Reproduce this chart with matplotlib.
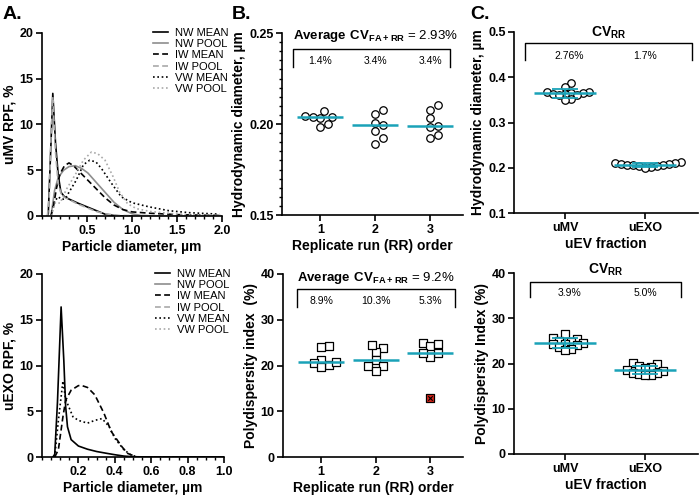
import numpy as np
import matplotlib; matplotlib.use("Agg")
import matplotlib.pyplot as plt
from matplotlib.lines import Line2D
from matplotlib.ticker import MultipleLocator, FormatStrFormatter

# ── Data ──────────────────────────────────────────────────────────────────────
SERIES = ["NW MEAN", "NW POOL", "IW MEAN", "IW POOL", "VW MEAN", "VW POOL"]

# A, top: uMV relative particle frequency (%) vs diameter (µm)
umv_nw_mean_d = [0.06, 0.07, 0.10, 0.12, 0.15, 0.18, 0.21, 0.25, 0.30, 0.40, 0.50, 0.60, 0.70, 0.80, 0.90, 1.0, 2.0]
umv_nw_mean_v = [0, 0.3, 8.0, 13.4, 8.0, 4.5, 2.6, 2.1, 1.85, 1.4, 1.0, 0.6, 0.2, 0.05, 0, 0, 0]
umv_nw_pool_d = [0.10, 0.14, 0.18, 0.24, 0.30, 0.37, 0.44, 0.51, 0.60, 0.70, 0.80, 0.90, 1.0, 1.1, 1.3, 2.0]
umv_nw_pool_v = [0, 2.8, 4.2, 5.0, 5.4, 5.5, 5.2, 4.7, 3.7, 2.6, 1.5, 0.7, 0.25, 0.05, 0, 0]
umv_iw_mean_d = [0.10, 0.13, 0.16, 0.20, 0.25, 0.30, 0.35, 0.40, 0.50, 0.60, 0.70, 0.80, 0.90, 1.0, 1.2, 1.5, 1.8, 2.0]
umv_iw_mean_v = [0, 1.2, 3.0, 4.6, 5.5, 5.8, 5.5, 5.0, 4.0, 3.0, 2.0, 1.2, 0.7, 0.45, 0.3, 0.15, 0.08, 0.05]
umv_iw_pool_d = [0.06, 0.08, 0.10, 0.12, 0.15, 0.18, 0.22, 0.30, 0.40, 0.50, 0.60, 0.70, 0.85, 2.0]
umv_iw_pool_v = [0, 2.0, 8.5, 13.0, 7.0, 3.5, 2.2, 1.8, 1.3, 0.9, 0.5, 0.25, 0.05, 0]
umv_vw_mean_d = [0.10, 0.14, 0.18, 0.22, 0.26, 0.30, 0.38, 0.46, 0.53, 0.60, 0.66, 0.77, 0.88, 1.0, 1.19, 1.41, 1.64, 1.97]
umv_vw_mean_v = [0, 1.6, 2.1, 1.8, 1.9, 2.6, 3.9, 5.6, 6.1, 5.9, 5.2, 3.6, 2.1, 1.45, 1.0, 0.58, 0.36, 0.2]
umv_vw_pool_d = [0.10, 0.15, 0.20, 0.27, 0.38, 0.46, 0.55, 0.62, 0.70, 0.79, 0.86, 0.95, 1.05, 1.2, 1.5, 2.0]
umv_vw_pool_v = [0, 1.5, 1.4, 2.9, 4.7, 6.1, 7.0, 6.8, 6.1, 4.3, 2.65, 1.35, 0.8, 0.5, 0.2, 0.05]

# A, bottom: uEXO (pool curves hidden under the means)
uexo_nw_mean_d = [0.06, 0.07, 0.085, 0.105, 0.12, 0.13, 0.14, 0.16, 0.20, 0.25, 0.30, 0.35, 0.40, 0.45, 0.50, 0.60, 1.0]
uexo_nw_mean_v = [0, 0.3, 6.0, 16.4, 10.5, 5.5, 3.3, 1.9, 1.2, 0.85, 0.6, 0.42, 0.25, 0.1, 0.03, 0, 0]
uexo_iw_mean_d = [0.07, 0.09, 0.115, 0.13, 0.16, 0.20, 0.22, 0.25, 0.29, 0.34, 0.38, 0.44, 0.47, 0.52, 1.0]
uexo_iw_mean_v = [0, 0.8, 4.4, 6.2, 7.3, 7.8, 7.8, 7.6, 6.8, 4.8, 2.8, 1.1, 0.4, 0, 0]
uexo_vw_mean_d = [0.07, 0.09, 0.115, 0.13, 0.17, 0.20, 0.25, 0.29, 0.33, 0.37, 0.40, 0.45, 0.49, 0.53, 1.0]
uexo_vw_mean_v = [0, 4.0, 8.3, 6.3, 4.4, 4.0, 3.7, 4.0, 4.2, 3.3, 2.05, 0.8, 0.2, 0, 0]

# B, top: hydrodynamic diameter (µm) per replicate run
rr_order = [1, 2, 3]
hd_run1 = [0.2071, 0.2035, 0.2037, 0.2045, 0.2037, 0.1982, 0.2000]
hd_run2 = [0.2053, 0.2077, 0.2007, 0.1995, 0.1963, 0.1921, 0.1888]
hd_run3 = [0.2104, 0.2077, 0.2031, 0.1985, 0.1988, 0.1921, 0.1940]
hd_cv = ["1.4%", "3.4%", "3.4%"]
hd_cv_avg = "2.93%"

# B, bottom: polydispersity index (%) per replicate run
pdi_run1 = [24.3, 24.0, 20.1, 21.3, 20.5, 20.8, 19.6]
pdi_run2 = [23.9, 22.9, 24.5, 21.1, 19.9, 19.9, 18.9]
pdi_run3 = [25.0, 24.3, 24.8, 22.7, 21.9, 22.7]
pdi_run3_outlier = [13.0]
pdi_cv = ["8.9%", "10.3%", "5.3%"]
pdi_cv_avg = "9.2%"

# C: uEV fractions
fractions = ["uMV", "uEXO"]
hd_umv = [0.387, 0.378, 0.368, 0.367, 0.366, 0.365, 0.364, 0.362, 0.361, 0.360, 0.352, 0.350]
hd_uexo = [0.212, 0.211, 0.210, 0.209, 0.208, 0.207, 0.206, 0.205, 0.204, 0.203, 0.202, 0.200]
hd_frac_cv = ["2.76%", "1.7%"]
pdi_umv = [26.6, 25.7, 25.5, 25.0, 24.7, 24.6, 24.4, 24.3, 24.1, 23.6, 23.3, 23.0]
pdi_uexo = [20.1, 19.9, 19.5, 19.2, 18.9, 18.6, 18.3, 18.0, 17.8, 17.6, 17.5, 17.4]
pdi_frac_cv = ["3.9%", "5.0%"]

# ── Style ─────────────────────────────────────────────────────────────────────
CYAN = "#1aa2b8"
plt.rcParams.update({
    "font.family": "Liberation Sans",
    "font.weight": "bold",
    "axes.labelweight": "bold",
    "axes.labelsize": 10,
    "axes.labelpad": 2,
    "mathtext.fontset": "custom",
    "mathtext.rm": "Liberation Sans",
    "mathtext.bf": "Liberation Sans:bold",
    "axes.linewidth": 1.2,
    "xtick.major.width": 1.2, "ytick.major.width": 1.2,
    "xtick.minor.width": 1.0, "ytick.minor.width": 1.0,
    "xtick.major.size": 4, "ytick.major.size": 4,
    "xtick.minor.size": 2.5, "ytick.minor.size": 2.5,
    "xtick.major.pad": 2.5, "ytick.major.pad": 2,
    "xtick.labelsize": 9, "ytick.labelsize": 9,
    "axes.spines.top": False, "axes.spines.right": False,
})

LINE_STYLE = {
    "NW MEAN": dict(color="black", ls="-"),
    "NW POOL": dict(color="#8e8e8e", ls="-"),
    "IW MEAN": dict(color="black", ls=(0, (3.5, 2))),
    "IW POOL": dict(color="#a9a9a9", ls=(0, (3.5, 2))),
    "VW MEAN": dict(color="black", ls=(0, (1, 1.6))),
    "VW POOL": dict(color="#a9a9a9", ls=(0, (1, 1.6))),
}

W, H = 700, 497
fig = plt.figure(figsize=(W / 100, H / 100), dpi=100)


def px_axes(x0, x1, ytop, ybot):
    return fig.add_axes([x0 / W, 1 - ybot / H, (x1 - x0) / W, (ybot - ytop) / H])


def swarm(vals, ax, gap):
    """Beeswarm offsets (data units) so symbols of diameter `gap` px don't pile up."""
    bb = ax.get_window_extent()
    sx = bb.width / np.ptp(ax.get_xlim())
    sy = bb.height / np.ptp(ax.get_ylim())
    step = gap / 2
    cands = [0] + [s * j for j in range(1, 60) for s in (1, -1)]
    placed, offs = [], np.zeros(len(vals))
    for i in np.argsort(vals):
        y = vals[i] * sy
        for c in cands:
            x = c * step
            if all((x - px) ** 2 + (y - py) ** 2 >= gap ** 2 - 1e-6 for px, py in placed):
                break
        placed.append((x, y))
        offs[i] = x / sx
    return offs


def bracket(ax, x0, x1, ytop, ybot):
    ax.plot([x0, x0, x1, x1], [ybot, ytop, ytop, ybot], color="black", lw=1.0, clip_on=False)


def legend_handles():
    return [Line2D([], [], lw=1.2, **LINE_STYLE[s]) for s in SERIES]


# ── Panel A ───────────────────────────────────────────────────────────────────
axA1 = px_axes(42, 222, 33, 216)
for name, d, v in [("NW MEAN", umv_nw_mean_d, umv_nw_mean_v), ("NW POOL", umv_nw_pool_d, umv_nw_pool_v),
                   ("IW MEAN", umv_iw_mean_d, umv_iw_mean_v), ("IW POOL", umv_iw_pool_d, umv_iw_pool_v),
                   ("VW MEAN", umv_vw_mean_d, umv_vw_mean_v), ("VW POOL", umv_vw_pool_d, umv_vw_pool_v)]:
    axA1.plot(d, v, lw=1.2, **LINE_STYLE[name])
axA1.set_xlim(0, 2.0); axA1.set_ylim(0, 20)
axA1.set_xticks([0.5, 1.0, 1.5, 2.0])
axA1.xaxis.set_major_formatter(FormatStrFormatter("%.1f"))
axA1.xaxis.set_minor_locator(MultipleLocator(0.1))
axA1.set_yticks([0, 5, 10, 15, 20])
axA1.set_ylabel("uMV RPF, %")
axA1.set_xlabel("Particle diameter, µm")

axA2 = px_axes(42, 224, 274, 457)
for name, d, v in [("NW MEAN", uexo_nw_mean_d, uexo_nw_mean_v), ("IW MEAN", uexo_iw_mean_d, uexo_iw_mean_v),
                   ("VW MEAN", uexo_vw_mean_d, uexo_vw_mean_v)]:
    axA2.plot(d, v, lw=1.2, **LINE_STYLE[name])
axA2.set_xlim(0, 1.0); axA2.set_ylim(0, 20)
axA2.set_xticks([0.2, 0.4, 0.6, 0.8, 1.0])
axA2.xaxis.set_major_formatter(FormatStrFormatter("%.1f"))
axA2.xaxis.set_minor_locator(MultipleLocator(0.05))
axA2.set_yticks([0, 5, 10, 15, 20])
axA2.set_ylabel("uEXO RPF, %")
axA2.set_xlabel("Particle diameter, µm")

for ax in (axA1, axA2):
    ax.legend(handles=legend_handles(), labels=SERIES, loc="upper right", bbox_to_anchor=(1.035, 1.03),
              frameon=False, borderaxespad=0, borderpad=0, handlelength=1.4, handletextpad=0.6,
              labelspacing=0.12, prop=dict(size=8, weight="normal"))


# ── Panel B ───────────────────────────────────────────────────────────────────
def dot_groups(ax, positions, groups, marker, gap, line_half, centre):
    for pos, vals in zip(positions, groups):
        vals = np.asarray(vals, float)
        offs = swarm(vals, ax, gap)
        ax.scatter(pos + offs, vals, s=5.4 ** 2, marker=marker, facecolor="white",
                   edgecolor="black", linewidths=0.9, zorder=3, clip_on=False)
        ax.hlines(centre(vals), pos - line_half, pos + line_half, color=CYAN, lw=1.8, zorder=4)


axB1 = px_axes(282, 463, 33, 215)
axB1.set_xlim(0.3, 3.6); axB1.set_ylim(0.15, 0.25)
dot_groups(axB1, rr_order, [hd_run1, hd_run2, hd_run3], "o", 7.5, 0.42, np.median)
axB1.set_yticks([0.15, 0.20, 0.25])
axB1.yaxis.set_major_formatter(FormatStrFormatter("%.2f"))
axB1.yaxis.set_minor_locator(MultipleLocator(0.005))
axB1.set_xticks(rr_order)
axB1.set_ylabel("Hydrodynamic diameter, µm")
axB1.set_xlabel("Replicate run (RR) order")
bracket(axB1, 0.5, 3.37, 0.241, 0.2315)
axB1.text(2.0, 0.2482, r"$\mathbf{Average\ CV_{FA+RR}}$ = " + hd_cv_avg, ha="center", va="center",
          fontsize=9.5, fontweight="normal")
for pos, lab in zip(rr_order, hd_cv):
    axB1.text(pos, 0.2346, lab, ha="center", va="center", fontsize=7.5, fontweight="normal")

axB2 = px_axes(283, 463, 274, 457)
axB2.set_xlim(0.3, 3.6); axB2.set_ylim(0, 40)
run3_all = pdi_run3 + pdi_run3_outlier
offs3 = swarm(np.asarray(run3_all, float), axB2, 7.5)
for pos, vals in zip(rr_order[:2], [pdi_run1, pdi_run2]):
    offs = swarm(np.asarray(vals, float), axB2, 7.5)
    axB2.scatter(pos + offs, vals, s=5.4 ** 2, marker="s", facecolor="white", edgecolor="black",
                 linewidths=0.9, zorder=3)
    axB2.hlines(np.median(vals), pos - 0.42, pos + 0.42, color=CYAN, lw=1.8, zorder=4)
n3 = len(pdi_run3)
axB2.scatter(rr_order[2] + offs3[:n3], pdi_run3, s=5.4 ** 2, marker="s", facecolor="white",
             edgecolor="black", linewidths=0.9, zorder=3)
axB2.scatter(rr_order[2] + offs3[n3:], pdi_run3_outlier, s=5.4 ** 2, marker="s", facecolor="#d9261c",
             edgecolor="black", linewidths=0.9, zorder=3)
axB2.scatter(rr_order[2] + offs3[n3:], pdi_run3_outlier, s=3.2 ** 2, marker="x", color="black",
             linewidths=0.8, zorder=4)
axB2.hlines(np.median(run3_all), rr_order[2] - 0.42, rr_order[2] + 0.42, color=CYAN, lw=1.8, zorder=4)
axB2.set_yticks([0, 10, 20, 30, 40])
axB2.set_xticks(rr_order)
axB2.set_ylabel("Polydispersity index  (%)")
axB2.set_xlabel("Replicate run (RR) order")
bracket(axB2, 0.56, 3.45, 36.7, 32.7)
axB2.text(2.0, 39.1, r"$\mathbf{Average\ CV_{FA+RR}}$ = " + pdi_cv_avg, ha="center", va="center",
          fontsize=9.5, fontweight="normal")
for pos, lab in zip(rr_order, pdi_cv):
    axB2.text(pos, 34.0, lab, ha="center", va="center", fontsize=7.5, fontweight="normal")


# ── Panel C ───────────────────────────────────────────────────────────────────
def frac_panel(ax, groups, marker):
    xs = np.arange(len(fractions))
    for pos, vals in zip(xs, groups):
        vals = np.asarray(vals, float)
        offs = swarm(vals, ax, 6.0)
        ax.scatter(pos + offs, vals, s=5.4 ** 2, marker=marker, facecolor="white",
                   edgecolor="black", linewidths=0.9, zorder=3)
        m, sd = vals.mean(), vals.std(ddof=1)
        ax.hlines(m, pos - 0.385, pos + 0.385, color=CYAN, lw=1.8, zorder=4)
        ax.errorbar(pos, m, yerr=sd, fmt="none", ecolor=CYAN, elinewidth=1.3, capsize=9.5,
                    capthick=1.3, zorder=4)
    ax.set_xticks(xs, fractions)
    ax.set_xlabel("uEV fraction")
    return xs


axC1 = px_axes(514, 698, 32, 213)
axC1.set_xlim(-0.64, 1.66); axC1.set_ylim(0.1, 0.5)
xsC = frac_panel(axC1, [hd_umv, hd_uexo], "o")
axC1.set_yticks([0.1, 0.2, 0.3, 0.4, 0.5])
axC1.yaxis.set_major_formatter(FormatStrFormatter("%.1f"))
axC1.set_ylabel("Hydrodynamic diameter, µm")
bracket(axC1, -0.5, 1.58, 0.4757, 0.4373)
axC1.text(0.54, 0.498, r"$\mathbf{CV_{RR}}$", ha="center", va="center", fontsize=10)
for pos, lab in zip(xsC, hd_frac_cv):
    axC1.text(pos + 0.05 * (1 - pos), 0.446, lab, ha="center", va="center", fontsize=7.5, fontweight="normal")

axC2 = px_axes(514, 698, 273, 454)
axC2.set_xlim(-0.64, 1.66); axC2.set_ylim(0, 40)
frac_panel(axC2, [pdi_umv, pdi_uexo], "s")
axC2.set_yticks([0, 10, 20, 30, 40])
axC2.set_ylabel("Polydispersity Index (%)")
bracket(axC2, -0.44, 1.45, 38.1, 34.6)
axC2.text(0.5, 40.8, r"$\mathbf{CV_{RR}}$", ha="center", va="center", fontsize=10)
for pos, lab in zip(xsC, pdi_frac_cv):
    axC2.text(pos + 0.05 * (1 - pos), 35.5, lab, ha="center", va="center", fontsize=7.5, fontweight="normal")

for ax in (axA1, axA2, axB1, axB2, axC1, axC2):
    ax.tick_params(direction="out")

fig.text(0.003, 0.988, "A.", fontsize=14, va="top")
fig.text(0.331, 0.988, "B.", fontsize=14, va="top")
fig.text(0.672, 0.988, "C.", fontsize=14, va="top")

fig.savefig("out.png", dpi=100)
